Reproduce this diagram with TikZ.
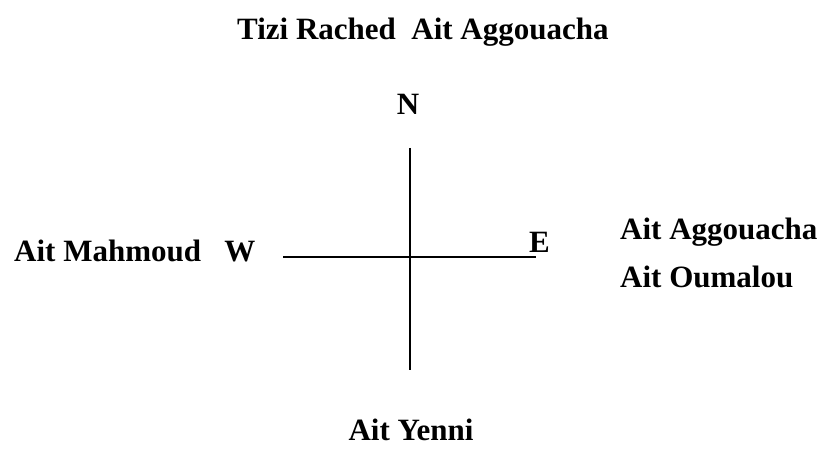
\documentclass[tikz,border=0pt]{standalone}
\usepackage{fontspec}
\setmainfont{Liberation Serif}
\begin{document}
\begin{tikzpicture}[x=1pt,y=-1pt,
  lbl/.style={inner sep=0pt,font=\fontsize{31}{37}\selectfont\bfseries},
  axis/.style={line width=1.6pt}]
\useasboundingbox (0,0) rectangle (826,470);
\node[lbl,anchor=base west] (title) at (237,40) {Tizi Rached\ \ Ait Aggouacha};
\node[lbl,anchor=base] (n) at (408,115) {N};
\node[lbl,anchor=base west] (w) at (14,261) {Ait Mahmoud\ \ \ W};
\node[lbl,anchor=base west] (e) at (529,252) {E};
\node[lbl,anchor=base west] (e1) at (620,240) {Ait Aggouacha};
\node[lbl,anchor=base west] (e2) at (620,287) {Ait Oumalou};
\node[lbl,anchor=base] (s) at (411,440) {Ait Yenni};
\coordinate (top) at (410,148);
\coordinate (bot) at (410,370);
\coordinate (left) at (283,257);
\coordinate (right) at (536,257);
\draw[axis] (top) -- (bot);
\draw[axis] (left) -- (right);
\end{tikzpicture}
\end{document}
